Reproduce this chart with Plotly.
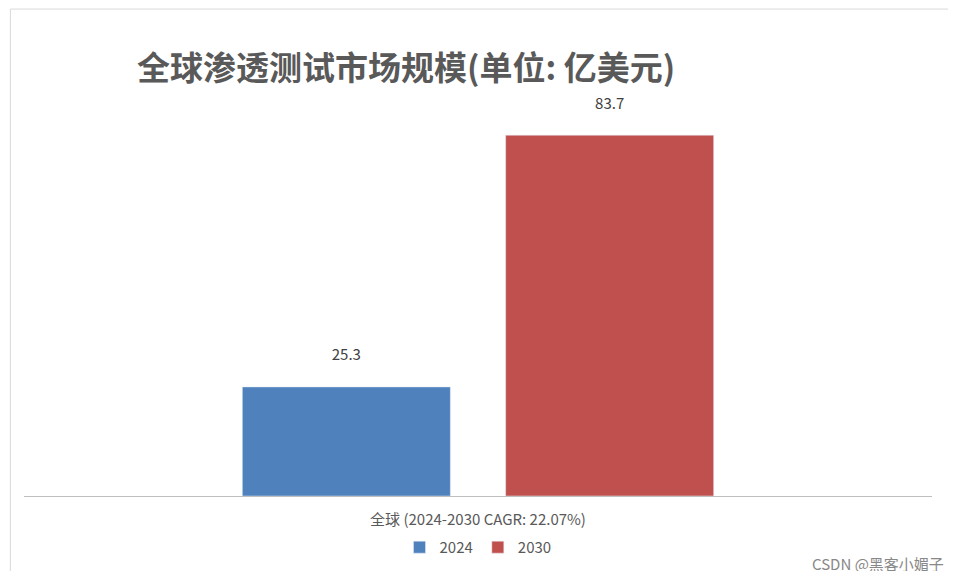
import plotly.graph_objects as go

categories = ["全球 (2024-2030 CAGR: 22.07%)"]
series_names = ["2024", "2030"]
values_2024 = [25.3]
values_2030 = [83.7]
colors = ["#4F81BD", "#C0504D"]

fig = go.Figure()
for name, vals, c in zip(series_names, [values_2024, values_2030], colors):
    fig.add_trace(go.Bar(x=categories, y=vals, name=name, marker_color=c,
                         text=[f"{v}<br> " for v in vals], textposition="outside",
                         textfont=dict(size=15, color="#404040"), cliponaxis=False))

fig.update_layout(
    width=956, height=571, paper_bgcolor="white", plot_bgcolor="white",
    font=dict(family="Noto Sans CJK SC, sans-serif", color="#595959"),
    title=dict(text="<b>全球渗透测试市场规模(单位: 亿美元)</b>", x=0.135, xanchor="left",
               y=0.895, yanchor="middle", font=dict(size=33, color="#595959")),
    margin=dict(l=16, r=32, t=100, b=83),
    barmode="group", bargap=0.42, bargroupgap=0.21,
    xaxis=dict(showline=True, linecolor="#BFBFBF", linewidth=1, ticks="",
               ticklabelstandoff=10, tickfont=dict(size=15, color="#595959")),
    yaxis=dict(range=[0, 90], visible=False),
    legend=dict(orientation="h", x=0.5, xanchor="center", y=-0.09, yanchor="top",
                font=dict(size=15, color="#595959")),
    showlegend=True,
    shapes=[dict(type="rect", xref="paper", yref="paper", x0=-0.015, x1=1.03, y0=-0.21, y1=1.255,
                 line=dict(color="#D9D9D9", width=1))],
    annotations=[dict(text="CSDN @黑客小媚子", xref="paper", yref="paper", x=1.015, y=-0.205,
                      xanchor="right", yanchor="bottom", showarrow=False,
                      font=dict(size=15, color="#888888"))],
)
fig.write_html("out.html")
